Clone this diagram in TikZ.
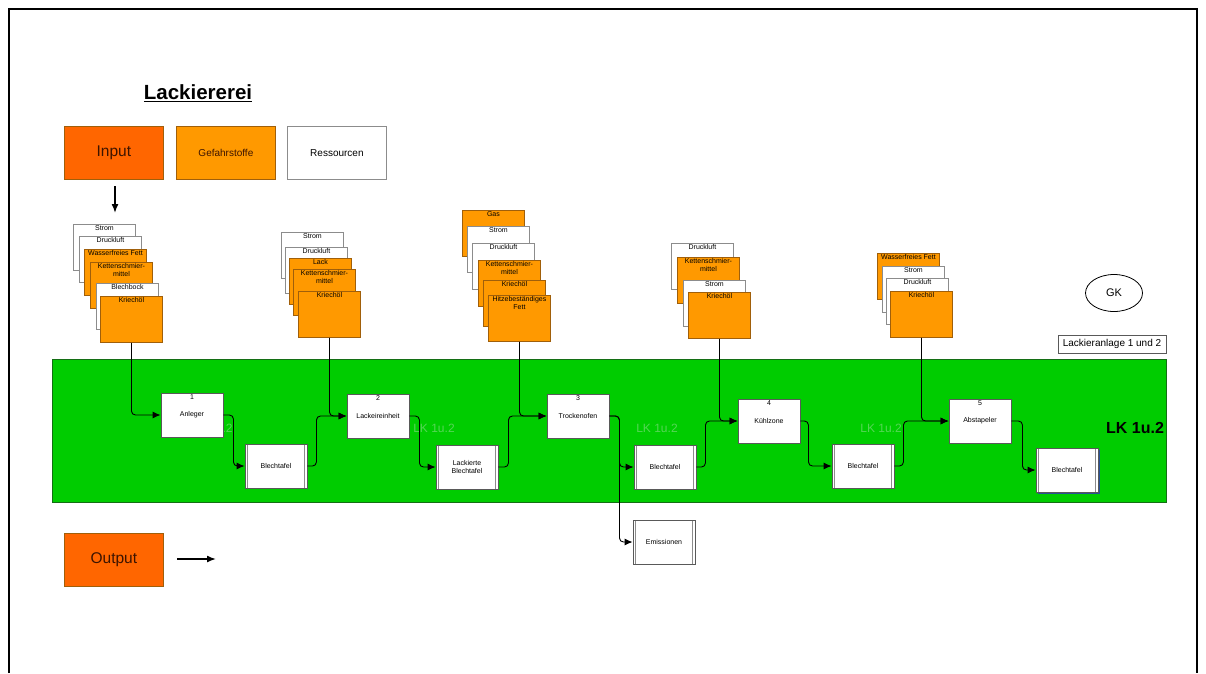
\documentclass[tikz,border=0pt]{standalone}
\usepackage{fontspec}
\setmainfont{Liberation Sans}
\usetikzlibrary{arrows.meta,shapes.geometric}
\definecolor{inputorange}{RGB}{255,102,0}
\definecolor{gefahr}{RGB}{255,153,0}
\definecolor{gefahrrand}{RGB}{160,95,10}
\definecolor{ressrand}{RGB}{140,140,140}
\definecolor{bandgreen}{RGB}{0,204,0}
\definecolor{bandrand}{RGB}{20,110,20}
\definecolor{lkgreen}{RGB}{85,214,85}
\definecolor{schatten}{RGB}{40,80,150}
\definecolor{dunkeltext}{RGB}{60,20,0}
\tikzset{
  tiny/.style={font=\fontsize{7}{7.8}\selectfont},
  legendbox/.style={anchor=north west, minimum width=99pt, minimum height=53pt, inner sep=0pt, line width=0.8pt},
  cardtxt/.style={tiny, anchor=north, align=center, inner sep=1.5pt},
  card/.style={anchor=north west, minimum width=62pt, minimum height=46pt, inner sep=0pt, line width=0.9pt, label={[cardtxt]north:#1}},
  gcard/.style={card=#1, fill=gefahr, draw=gefahrrand},
  rcard/.style={card=#1, fill=white, draw=ressrand},
  proc/.style={tiny, draw=gray!70!black, fill=white, line width=0.9pt, minimum width=62pt, minimum height=44pt, inner sep=1pt, align=center},
  numproc/.style={proc, label={[cardtxt]north:#1}},
  store/.style={proc, path picture={
      \draw[ressrand, line width=0.8pt]
        ([xshift=2.5pt]path picture bounding box.north west) -- ([xshift=2.5pt]path picture bounding box.south west)
        ([xshift=-2.5pt]path picture bounding box.north east) -- ([xshift=-2.5pt]path picture bounding box.south east);}},
  flow/.style={-{Latex[length=8pt,width=7pt]}, rounded corners=4pt, line width=0.9pt},
  lkfaint/.style={text=lkgreen, font=\fontsize{12}{14}\selectfont, inner sep=0pt}
}
\begin{document}
\begin{tikzpicture}[x=1pt,y=-1pt]
  \useasboundingbox (0,0) rectangle (1206,673);
  % Rahmen
  \draw[line width=1.5pt] (9,673) -- (9,9) -- (1197,9) -- (1197,673);
  % Titel und Legende
  \node[font=\bfseries\fontsize{20.5}{24}\selectfont] (titel) at (198,93) {\underline{Lackiererei}};
  \node[legendbox, fill=inputorange, draw=gefahrrand, text=dunkeltext, font=\fontsize{15.5}{18}\selectfont] (input) at (64,126) {Input};
  \node[legendbox, fill=gefahr, draw=gefahrrand, text=dunkeltext, font=\fontsize{10}{12}\selectfont] (gefahr) at (176,126) {Gefahrstoffe};
  \node[legendbox, fill=white, draw=ressrand, font=\fontsize{10}{12}\selectfont] (ress) at (287,126) {Ressourcen};
  \node[legendbox, fill=inputorange, draw=gefahrrand, text=dunkeltext, font=\fontsize{15.5}{18}\selectfont] (output) at (64,533) {Output};
  \coordinate (inA) at (115,186);
  \coordinate (inB) at (115,213);
  \coordinate (outA) at (177,559);
  \coordinate (outB) at (216,559);
  \draw[-{Latex[length=9pt,width=7pt]}, line width=1.5pt] (inA) -- (inB);
  \draw[-{Latex[length=9pt,width=7pt]}, line width=1.5pt] (outA) -- (outB);
  % GK
  \node[draw, ellipse, line width=0.8pt, minimum width=57pt, minimum height=37pt, font=\fontsize{11}{13}\selectfont] (gk) at (1114,293) {GK};
  \node[draw=gray!70!black, line width=0.8pt, minimum width=108pt, minimum height=18pt, inner sep=0pt, font=\fontsize{10}{12}\selectfont] (anlage) at (1112,344) {Lackieranlage 1 und 2};
  % Band
  \node[anchor=north west, fill=bandgreen, draw=bandrand, line width=1pt, minimum width=1114pt, minimum height=143pt, inner sep=0pt] (band) at (52,359) {};
  \node[lkfaint] (lk1) at (212,428) {LK 1u.2};
  \node[lkfaint] (lk2) at (434,428) {LK 1u.2};
  \node[lkfaint] (lk3) at (657,428) {LK 1u.2};
  \node[lkfaint] (lk4) at (881,428) {LK 1u.2};
  \node[font=\bfseries\fontsize{16}{19}\selectfont] (lk) at (1135,428) {LK 1u.2};
  % Stapel 1
  \node[rcard=Strom] (s1a) at (73,224) {};
  \node[rcard=Druckluft] (s1b) at (79,236) {};
  \node[gcard=Wasserfreies Fett] (s1c) at (84,249) {};
  \node[gcard=Kettenschmier-\\mittel] (s1d) at (90,262) {};
  \node[rcard=Blechbock] (s1e) at (96,283) {};
  \node[gcard=Kriechöl] (s1f) at (100,296) {};
  % Stapel 2
  \node[rcard=Strom] (s2a) at (281,232) {};
  \node[rcard=Druckluft] (s2b) at (285,247) {};
  \node[gcard=Lack] (s2c) at (289,258) {};
  \node[gcard=Kettenschmier-\\mittel] (s2d) at (293,269) {};
  \node[gcard=Kriechöl] (s2e) at (298,291) {};
  % Stapel 3
  \node[gcard=Gas] (s3a) at (462,210) {};
  \node[rcard=Strom] (s3b) at (467,226) {};
  \node[rcard=Druckluft] (s3c) at (472,243) {};
  \node[gcard=Kettenschmier-\\mittel] (s3d) at (478,260) {};
  \node[gcard=Kriechöl] (s3e) at (483,280) {};
  \node[gcard=Hitzebeständiges\\Fett] (s3f) at (488,295) {};
  % Stapel 4
  \node[rcard=Druckluft] (s4a) at (671,243) {};
  \node[gcard=Kettenschmier-\\mittel] (s4b) at (677,257) {};
  \node[rcard=Strom] (s4c) at (683,280) {};
  \node[gcard=Kriechöl] (s4d) at (688,292) {};
  % Stapel 5
  \node[gcard=Wasserfreies Fett] (s5a) at (877,253) {};
  \node[rcard=Strom] (s5b) at (882,266) {};
  \node[rcard=Druckluft] (s5c) at (886,278) {};
  \node[gcard=Kriechöl] (s5d) at (890,291) {};
  % Prozesse
  \node[numproc=1] (a1) at (192,415) {Anleger};
  \node[store] (b1) at (276,466) {Blechtafel};
  \node[numproc=2] (a2) at (378,416) {Lackeireinheit};
  \node[store] (b2) at (467,467) {Lackierte\\Blechtafel};
  \node[numproc=3] (a3) at (578,416) {Trockenofen};
  \node[store] (b3) at (665,467) {Blechtafel};
  \node[numproc=4] (a4) at (769,421) {Kühlzone};
  \node[store] (b4) at (863,466) {Blechtafel};
  \node[numproc=5] (a5) at (980,421) {Abstapeler};
  \node[store] (b5) at (1067,470) {Blechtafel};
  \node[store] (em) at (664,542) {Emissionen};
  \draw[schatten, line width=1.2pt] ([xshift=1.2pt,yshift=-2pt]b5.north east) -- ([xshift=1.2pt,yshift=-1.2pt]b5.south east) -- ([xshift=2pt,yshift=-1.2pt]b5.south west);
  % Zufuhr
  \draw[flow] (s1f.south) |- (a1.west);
  \draw[flow] (s2e.south) |- (a2.west);
  \draw[flow] (s3f.south) |- (a3.west);
  \draw[flow] (s4d.south) |- (a4.west);
  \draw[flow] (s5d.south) |- (a5.west);
  % Ablauf
  \draw[flow] (a1.east) -- ++(10,0) |- (b1.west);
  \draw[flow] (b1.east) -- ++(9,0) |- (a2.west);
  \draw[flow] (a2.east) -- ++(10,0) |- (b2.west);
  \draw[flow] (b2.east) -- ++(10,0) |- (a3.west);
  \draw[flow] (a3.east) -- ++(10,0) |- (b3.west);
  \draw[flow] (a3.east) -- ++(10,0) |- (em.west);
  \draw[flow] (b3.east) -- ++(9,0) |- (a4.west);
  \draw[flow] (a4.east) -- ++(8,0) |- (b4.west);
  \draw[flow] (b4.east) -- ++(9,0) |- (a5.west);
  \draw[flow] (a5.east) -- ++(11,0) |- (b5.west);
\end{tikzpicture}
\end{document}
